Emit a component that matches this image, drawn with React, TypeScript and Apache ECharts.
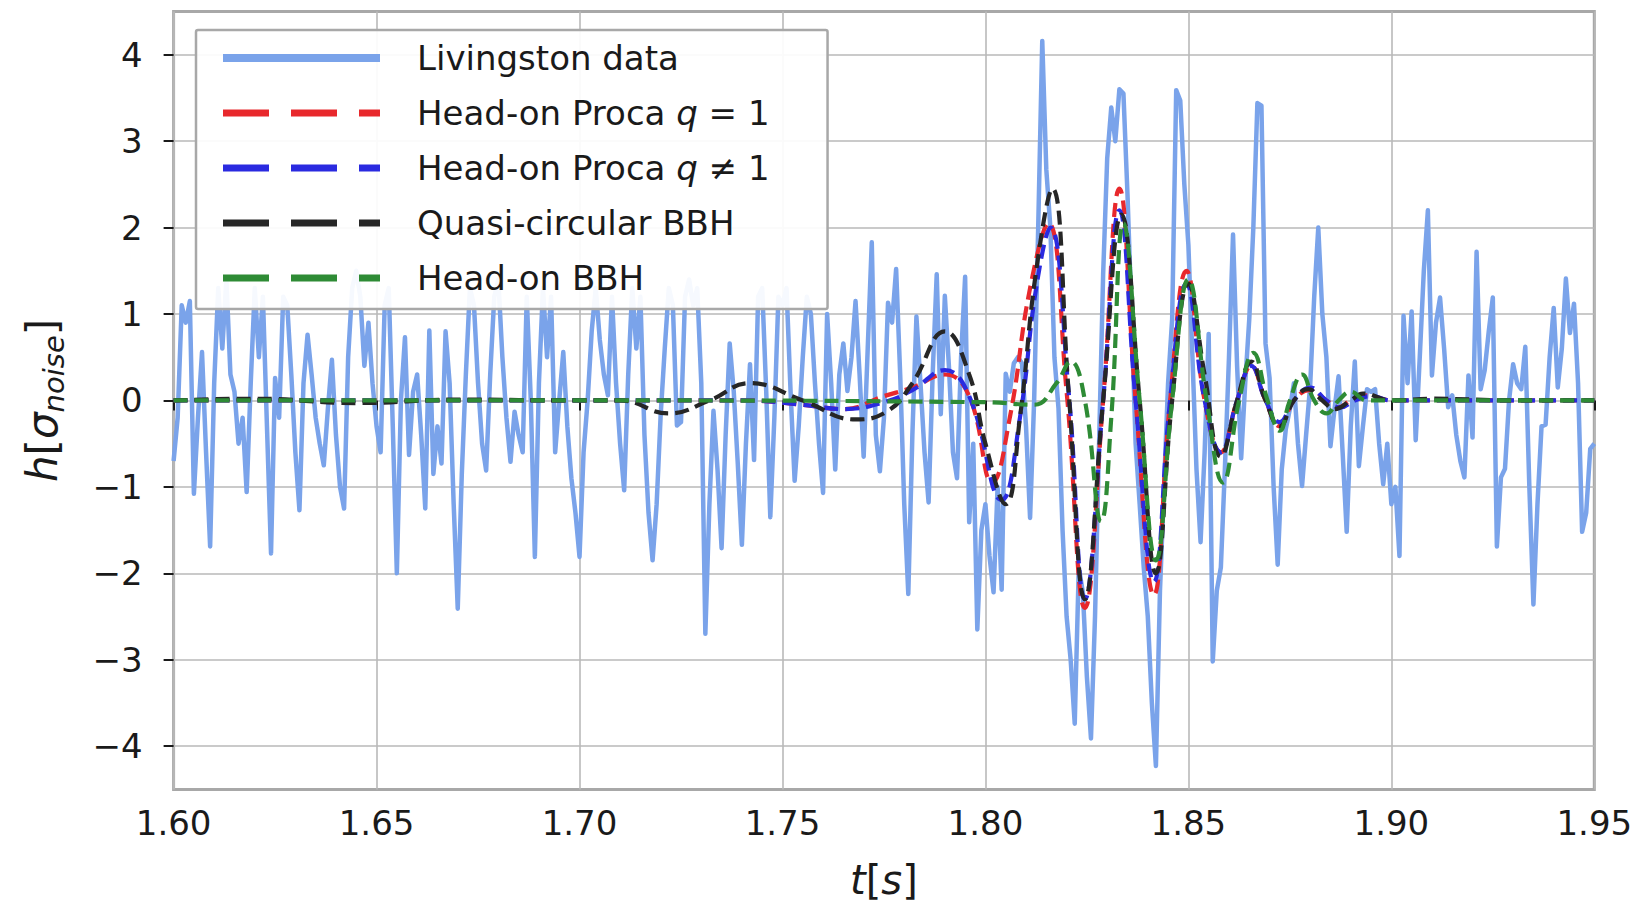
import React, { useEffect, useRef } from "react";
import * as echarts from "echarts";

// ---------- data ----------
const T_START = 1.6; // s, first Livingston sample
const DT = 0.001; // s, sample spacing of the Livingston strain
// Livingston data, whitened strain in units of sigma_noise (one value per ms from 1.600 s)
const livingston: number[] = [
  -0.7, -0.2, 1.1, 0.9, 1.15, -1.08, -0.2, 0.56, -0.6, -1.69,
  0.2, 1.3, 0.6, 1.4, 0.3, 0.1, -0.5, -0.2, -1.06, 0.2,
  1.3, 0.5, 1.2, -0.3, -1.77, 0.26, -0.2, 1.2, 1.1, 0.3,
  -0.6, -1.27, 0.2, 0.76, 0.3, -0.2, -0.5, -0.75, -0.1, 0.47,
  -0.4, -1.0, -1.25, 0.5, 1.3, 1.5, 1.2, 0.4, 0.9, 0.2,
  -0.3, -0.6, 1.1, 1.3, -0.3, -2.0, 0.0, 0.73, -0.63, 0.1,
  0.3, -0.4, -1.25, 0.81, -0.85, -0.3, -0.73, 0.8, 0.2, -1.2,
  -2.41, -0.85, 0.3, 1.3, 1.1, 0.2, -0.5, -0.81, 0.3, 1.2,
  1.4, 0.5, -0.2, -0.71, -0.13, -0.4, -0.6, 1.2, 0.0, -1.81,
  0.2, 1.3, 0.5, 1.2, -0.6, 0.0, 0.56, -0.3, -0.9, -1.3,
  -1.81, -0.6, 0.0, 0.8, 1.3, 0.7, 0.3, 0.06, 1.2, 0.2,
  -0.5, -1.04, 0.3, 1.3, 0.6, 1.2, -0.4, -1.3, -1.85, -1.2,
  -0.16, 0.6, 1.3, 1.1, -0.29, -0.25, 1.2, 1.4, 1.1, 1.3,
  0.2, -2.7, -1.2, -0.12, -0.8, -1.71, -0.4, 0.66, 0.1, -0.74,
  -1.67, -0.5, 0.42, -0.69, 1.2, 1.3, 0.1, -1.35, -0.2, 1.2,
  1.1, 1.3, 0.1, -0.93, -0.3, 0.5, 1.2, 1.0, 0.2, -0.5,
  -1.07, 1.0, 0.2, -0.8, 0.3, 0.66, 0.11, 0.5, 1.15, 0.3,
  -0.65, 0.6, 1.83, -0.4, -0.82, -0.2, 1.13, 0.9, 1.52, 0.3,
  -1.2, -2.24, -0.4, 0.97, 0.2, -0.6, -1.18, 0.3, 1.46, -0.16,
  1.21, 0.4, -0.6, -0.9, 0.5, 1.43, -1.41, -0.5, -2.65, -1.5,
  -1.2, -1.8, -2.22, -1.0, -2.19, 0.31, 0.1, 0.43, 0.5, 0.43,
  -0.3, -1.36, 0.0, 2.0, 4.16, 2.67, 2.0, 0.5, -0.09, -1.5,
  -2.5, -3.0, -3.74, -1.93, -2.22, -3.2, -3.91, -2.5, -0.5, 1.46,
  2.8, 3.39, 3.0, 3.6, 3.55, 2.38, 1.0, -0.5, -1.2, -1.93,
  -2.5, -3.5, -4.23, -2.2, -1.0, 0.2, 0.94, 3.59, 3.47, 2.5,
  1.8, 0.5, -0.8, -1.64, -0.6, 0.77, -3.02, -2.2, -1.93, -0.78,
  0.5, 1.92, 0.4, -0.67, 0.2, 0.94, 2.0, 3.44, 3.41, 0.66,
  0.26, -1.0, -1.9, -0.8, -0.33, -0.1, 0.2, -0.5, -0.99, -0.4,
  0.17, 1.2, 2.0, 1.0, 0.5, -0.53, -0.1, 0.28, -0.6, -1.52,
  -0.3, 0.45, -0.76, -0.3, 0.13, 0.1, 0.13, -0.5, -0.97, -0.5,
  -1.2, -1.0, -1.8, 0.98, 0.2, 1.03, -0.46, 0.5, 1.5, 2.2,
  0.29, 0.9, 1.19, 0.6, -0.08, 0.06, -0.4, -0.7, -0.89, 0.29,
  -0.43, 1.72, 0.13, 0.35, 0.8, 1.19, -1.69, -0.89, -0.79, 0.0,
  0.42, 0.2, 0.13, 0.62, -1.0, -2.36, -1.2, -0.3, -0.28, 0.5,
  1.07, 0.15, 0.6, 1.41, 0.78, 1.12, 0.2, -1.52, -1.3, -0.56,
  -0.5,
];

// Head-on Proca q = 1
const procaQ1T = [1.6, 1.7, 1.74, 1.755, 1.765, 1.775, 1.782, 1.79, 1.796, 1.8017, 1.806, 1.811, 1.8155, 1.82, 1.8245, 1.829, 1.833, 1.837, 1.8415, 1.8455, 1.8495, 1.854, 1.858, 1.862, 1.8655, 1.869, 1.8725, 1.876, 1.88, 1.884, 1.887, 1.89, 1.894, 1.9, 1.95];
const procaQ1V = [0, 0, 0, -0.05, -0.1, 0.05, 0.15, 0.3, 0.05, -0.95, -0.2, 1.3, 2.05, 0.1, -2.4, 0, 2.45, 0, -2.25, 0, 1.5, 0, -0.6, 0, 0.4, 0, -0.3, 0, 0.12, 0, -0.08, 0, 0.06, 0, 0];

// Head-on Proca q != 1
const procaQnT = [1.6, 1.74, 1.755, 1.765, 1.775, 1.782, 1.79, 1.796, 1.804, 1.8085, 1.8125, 1.816, 1.8205, 1.8245, 1.829, 1.833, 1.837, 1.8415, 1.8455, 1.8495, 1.854, 1.858, 1.862, 1.8655, 1.869, 1.8725, 1.876, 1.88, 1.884, 1.8875, 1.891, 1.895, 1.9, 1.95];
const procaQnV = [0, 0, -0.05, -0.1, -0.02, 0.12, 0.35, 0.05, -1.15, -0.2, 1.3, 2.0, 0.1, -2.3, 0, 2.2, 0, -2.1, 0, 1.35, 0, -0.6, 0, 0.4, 0, -0.25, 0, 0.15, 0, -0.08, 0, 0.05, 0, 0];

// Quasi-circular BBH
const quasiT = [1.6, 1.62, 1.645, 1.67, 1.7, 1.71, 1.722, 1.732, 1.742, 1.755, 1.768, 1.776, 1.782, 1.79, 1.796, 1.8, 1.805, 1.8085, 1.8125, 1.8165, 1.8205, 1.8245, 1.829, 1.8335, 1.838, 1.842, 1.846, 1.85, 1.854, 1.858, 1.862, 1.8655, 1.869, 1.8725, 1.876, 1.8795, 1.883, 1.886, 1.89, 1.893, 1.9, 1.91, 1.93, 1.95];
const quasiV = [0, 0.02, -0.03, 0.01, 0, 0, -0.15, 0, 0.2, 0, -0.22, -0.12, 0.2, 0.8, 0.3, -0.5, -1.2, -0.2, 1.5, 2.45, 0.1, -2.3, 0, 2.15, 0, -2.0, 0, 1.35, 0.3, -0.65, 0, 0.45, 0, -0.3, 0, 0.13, 0, -0.1, 0, 0.08, 0, 0.02, 0, 0];

// Head-on BBH
const headOnT = [1.6, 1.7, 1.8, 1.812, 1.8175, 1.821, 1.8245, 1.8285, 1.831, 1.834, 1.838, 1.842, 1.846, 1.85, 1.8545, 1.8585, 1.8625, 1.866, 1.8695, 1.8725, 1.875, 1.878, 1.881, 1.884, 1.887, 1.89, 1.894, 1.95];
const headOnV = [0, 0, -0.02, -0.05, 0.2, 0.45, 0, -1.4, -0.2, 2.05, 0, -1.85, 0, 1.4, 0, -0.95, 0, 0.55, 0, -0.35, 0, 0.3, 0, -0.15, 0, 0.1, 0, 0];

const xTicks = { min: 1.6, max: 1.95, step: 0.05 };
const yTicks = [-4, -3, -2, -1, 0, 1, 2, 3, 4];

const SERIES_NAMES = [
  "Livingston data",
  "Head-on Proca q = 1",
  "Head-on Proca q ≠ 1",
  "Quasi-circular BBH",
  "Head-on BBH",
];

const FONT = "DejaVu Sans";

function zip(ts: number[], vs: number[]): number[][] {
  return ts.map((t, i) => [t, vs[i]]);
}

export default function App() {
  const ref = useRef<HTMLDivElement>(null);

  useEffect(() => {
    if (!ref.current) return;
    const chart = echarts.init(ref.current, null, { renderer: "svg" });

    const noiseData = livingston.map((v, i) => [T_START + i * DT, v]);
    const dash = [14, 7];
    const mkTemplate = (name: string, color: string, data: number[][]) => ({
      name,
      type: "line",
      data,
      smooth: 0.45,
      showSymbol: false,
      symbol: "none",
      lineStyle: { color, width: 4.2, type: dash },
      itemStyle: { color },
      z: 3,
    });
    const hiddenSymbol = { opacity: 0, color: "transparent", borderWidth: 0 };

    const option: any = {
      animation: false,
      backgroundColor: "#ffffff",
      grid: {
        left: 173.6,
        right: 55.7,
        top: 11.5,
        bottom: 120.6,
        show: true,
        borderColor: "#a8a8a8",
        borderWidth: 3,
        backgroundColor: "transparent",
        containLabel: false,
        outerBoundsMode: "none",
      },
      legend: {
        orient: "vertical",
        left: 196,
        top: 30,
        padding: [8, 58, 11, 23],
        itemWidth: 157,
        itemHeight: 14,
        itemGap: 15,
        backgroundColor: "rgba(255,255,255,0.93)",
        borderColor: "#a8a8a8",
        borderWidth: 2.5,
        borderRadius: 2,
        selectedMode: false,
        itemStyle: hiddenSymbol,
        formatter: (name: string) => name.replace(" q ", " {i|q} "),
        textStyle: {
          fontFamily: FONT,
          fontSize: 34,
          lineHeight: 40,
          color: "#1a1a1a",
          padding: [0, 0, 0, 32],
          rich: {
            i: { fontFamily: FONT, fontSize: 34, fontStyle: "italic", color: "#1a1a1a", lineHeight: 40 },
          },
        },
        data: [
          { name: SERIES_NAMES[0], itemStyle: hiddenSymbol, lineStyle: { width: 8, type: "solid" } },
          { name: SERIES_NAMES[1], itemStyle: hiddenSymbol, lineStyle: { width: 7, type: [46, 22] } },
          { name: SERIES_NAMES[2], itemStyle: hiddenSymbol, lineStyle: { width: 7, type: [46, 22] } },
          { name: SERIES_NAMES[3], itemStyle: hiddenSymbol, lineStyle: { width: 7, type: [46, 22] } },
          { name: SERIES_NAMES[4], itemStyle: hiddenSymbol, lineStyle: { width: 7, type: [46, 22] } },
        ],
      },
      xAxis: {
        type: "value",
        min: xTicks.min,
        max: xTicks.max,
        interval: xTicks.step,
        name: "{i|t}[{i|s}]",
        nameLocation: "middle",
        nameGap: 70,
        nameTextStyle: {
          fontFamily: FONT,
          fontSize: 40,
          lineHeight: 42,
          color: "#1a1a1a",
          rich: { i: { fontFamily: FONT, fontSize: 40, lineHeight: 42, fontStyle: "italic", color: "#1a1a1a" } },
        },
        axisLine: { show: false },
        axisTick: { show: true, length: 10, lineStyle: { color: "#1a1a1a", width: 2 } },
        axisLabel: {
          margin: 17,
          fontFamily: FONT,
          fontSize: 34,
          color: "#1a1a1a",
          formatter: (v: number) => v.toFixed(2),
        },
        splitLine: { show: true, lineStyle: { color: "#b9b9b9", width: 1.6 } },
      },
      yAxis: {
        type: "value",
        min: -4.5,
        max: 4.5,
        minInterval: 1,
        maxInterval: 1,
        name: "{i|h}[{i|σ}{sub|noise}]",
        nameLocation: "middle",
        nameGap: 105,
        nameTextStyle: {
          fontFamily: FONT,
          fontSize: 42,
          lineHeight: 52,
          color: "#1a1a1a",
          rich: {
            i: { fontFamily: FONT, fontSize: 42, fontStyle: "italic", color: "#1a1a1a", lineHeight: 52 },
            sub: { fontFamily: FONT, fontSize: 29, fontStyle: "italic", color: "#1a1a1a", verticalAlign: "bottom" },
          },
        },
        axisLine: { show: false },
        axisTick: { show: true, length: 10, customValues: yTicks, lineStyle: { color: "#1a1a1a", width: 2 } },
        axisLabel: {
          margin: 31,
          fontFamily: FONT,
          fontSize: 34,
          color: "#1a1a1a",
          customValues: yTicks,
          formatter: (v: number) => (v < 0 ? "\u2212" + Math.abs(v) : String(v)),
        },
        splitLine: { show: true, lineStyle: { color: "#b9b9b9", width: 1.6 } },
      },
      series: [
        {
          name: SERIES_NAMES[0],
          type: "line",
          data: noiseData,
          showSymbol: false,
          symbol: "none",
          lineStyle: { color: "#7aa3ea", width: 4.5, join: "round" },
          itemStyle: { color: "#7aa3ea" },
          z: 2,
        },
        mkTemplate(SERIES_NAMES[1], "#e8282c", zip(procaQ1T, procaQ1V)),
        mkTemplate(SERIES_NAMES[2], "#2a2ae0", zip(procaQnT, procaQnV)),
        mkTemplate(SERIES_NAMES[3], "#262626", zip(quasiT, quasiV)),
        mkTemplate(SERIES_NAMES[4], "#2e8b35", zip(headOnT, headOnV)),
      ],
    };

    chart.setOption(option);
    return () => chart.dispose();
  }, []);

  return (
    <div
      ref={ref}
      style={{ position: "absolute", left: 0, top: 0, width: 1650, height: 910, background: "#fff" }}
    />
  );
}
